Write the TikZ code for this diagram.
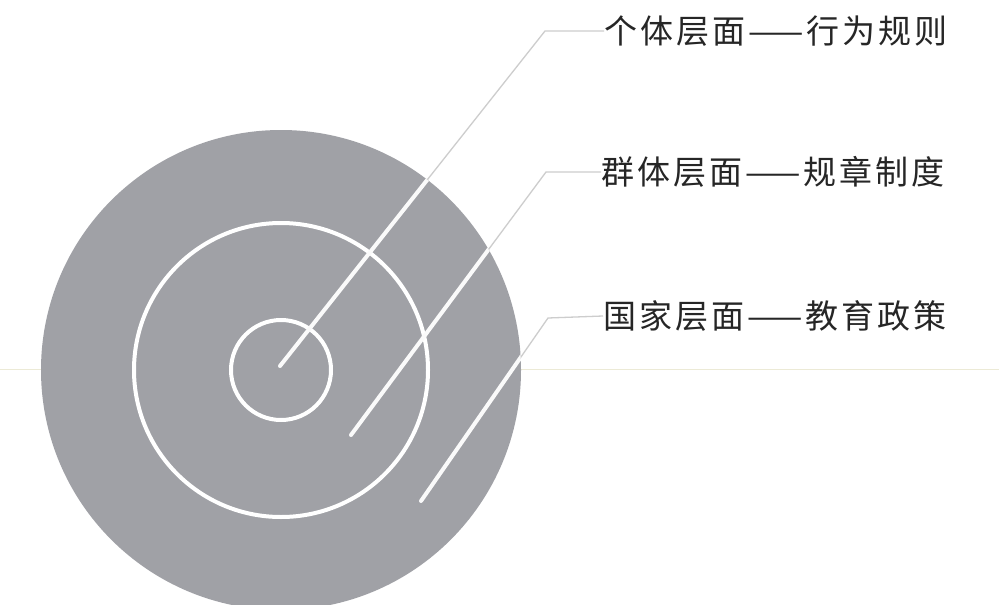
\documentclass[tikz,border=0pt]{standalone}
\usepackage{fontspec}
\newfontfamily\cjk[LetterSpace=9]{Noto Sans CJK SC}
\definecolor{discgray}{RGB}{160,161,166}
\definecolor{leadgray}{RGB}{205,205,205}
\definecolor{scanline}{RGB}{236,234,214}
\tikzset{
  disc/.style={fill=discgray},
  ring/.style={draw=white, line width=4pt},
  leadout/.style={draw=leadgray, line width=1.3pt},
  leadin/.style={draw=white!96!gray, line width=4pt, line cap=round},
  lbl/.style={anchor=west, inner sep=0pt, font=\cjk\fontsize{33}{33}\selectfont, text=black!85}
}
\begin{document}
\begin{tikzpicture}[x=1pt,y=-1pt]
\useasboundingbox (0,0) rectangle (999,605);
\clip (0,0) rectangle (999,605);
\fill[white] (0,0) rectangle (999,605);
% faint scan line
\draw[scanline, line width=0.8pt] (0,369) -- (999,369);
% disc and rings
\coordinate (c) at (281,370);
\fill[disc] (c) circle[radius=240pt];
\draw[ring] (c) circle[radius=147pt];
\draw[ring] (c) circle[radius=50pt];
% end points and corners
\coordinate (p1) at (280,366);
\coordinate (p2) at (351,435);
\coordinate (p3) at (421,501);
\coordinate (k1) at (545,31);
\coordinate (k2) at (546,172);
\coordinate (k3) at (548,318);
% labels
\node[lbl] (t1) at (604,31) {个体层面——行为规则};
\node[lbl] (t2) at (601,172) {群体层面——规章制度};
\node[lbl] (t3) at (603,316) {国家层面——教育政策};
% leaders (outside part)
\draw[leadout] (p1) -- (k1) -- (t1.west);
\draw[leadout] (p2) -- (k2) -- (t2.west);
\draw[leadout] (p3) -- (k3) -- (t3.west);
% leaders (inside the disc)
\begin{scope}
\clip (c) circle[radius=240pt];
\draw[leadin] (p1) -- (k1);
\draw[leadin] (p2) -- (k2);
\draw[leadin] (p3) -- (k3);
\end{scope}
\end{tikzpicture}
\end{document}
